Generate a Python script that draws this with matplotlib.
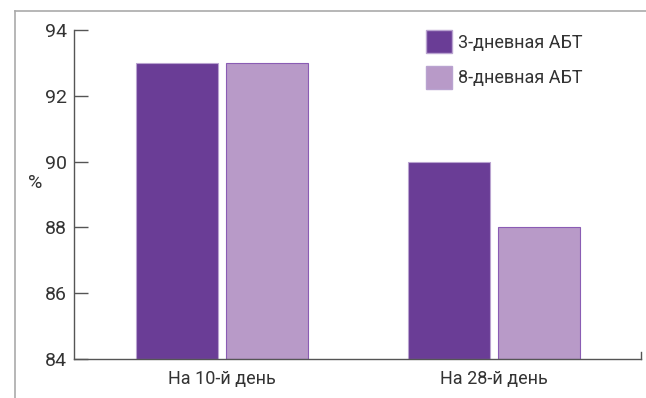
import numpy as np
import matplotlib
matplotlib.use("Agg")
import matplotlib.pyplot as plt
from matplotlib.patches import Patch
from matplotlib.lines import Line2D

plt.rcParams['font.family'] = ['Roboto', 'DejaVu Sans']

# данные
groups = ["На 10-й день", "На 28-й день"]
series_names = ["3-дневная АБТ", "8-дневная АБТ"]
abt3 = [93, 90]
abt8 = [93, 88]
y_ticks = [84, 86, 88, 90, 92, 94]

c_dark = "#6a3d96"
c_light = "#b89ac8"

fig = plt.figure(figsize=(6.46, 3.98), dpi=100)
ax = fig.add_axes([0.1146, 0.098, 0.992 - 0.1146, 0.9246 - 0.098])

x = np.arange(len(groups))
w = 0.30
off = 0.165
ax.bar(x - off, np.array(abt3) - 84, w, bottom=84, color=c_dark,
       edgecolor="#b9a3d0", linewidth=0.8, label=series_names[0])
ax.bar(x + off, np.array(abt8) - 84, w, bottom=84, color=c_light,
       edgecolor="#8a5cb4", linewidth=0.8, label=series_names[1])

ax.set_ylim(84, 94)
ax.set_xlim(-0.544, 1.54)
ax.set_yticks(y_ticks)
ax.set_xticks(x)
ax.set_xticklabels(groups)

for s in ["top", "right"]:
    ax.spines[s].set_visible(False)
for s in ["left", "bottom"]:
    ax.spines[s].set_color("#555555")
    ax.spines[s].set_linewidth(1.0)

ax.tick_params(axis="y", direction="in", length=10, width=1.0, color="#555555",
               labelsize=14, labelcolor="#333333", pad=5)
ax.tick_params(axis="x", length=0, labelsize=13, labelcolor="#333333", pad=8)

# маленький штрих в конце оси X
ax.plot([1, 1], [0, 0.02], transform=ax.transAxes, color="#555555",
        lw=1.0, clip_on=False)

fig.text(35 / 646, 1 - 183 / 398, "%", fontsize=14, color="#333333",
         ha="center", va="center")

# рамка
fig.add_artist(Line2D([0.023, 1.0], [0.972, 0.972], color="#aaaaaa", lw=1.2))
fig.add_artist(Line2D([0.023, 0.023], [0.0, 0.972], color="#aaaaaa", lw=1.2))

handles = [Patch(facecolor=c_dark, edgecolor="#b9a3d0"),
           Patch(facecolor=c_light, edgecolor="#b9a3d0")]
fig.legend(handles, series_names, loc="upper left",
           bbox_to_anchor=(417 / 646, 1 - 21 / 398), frameon=False,
           fontsize=13, handlelength=1.45, handleheight=1.6,
           handletextpad=0.3, labelspacing=0.7, borderpad=0,
           labelcolor="#333333")

fig.savefig("out.png", dpi=100)
